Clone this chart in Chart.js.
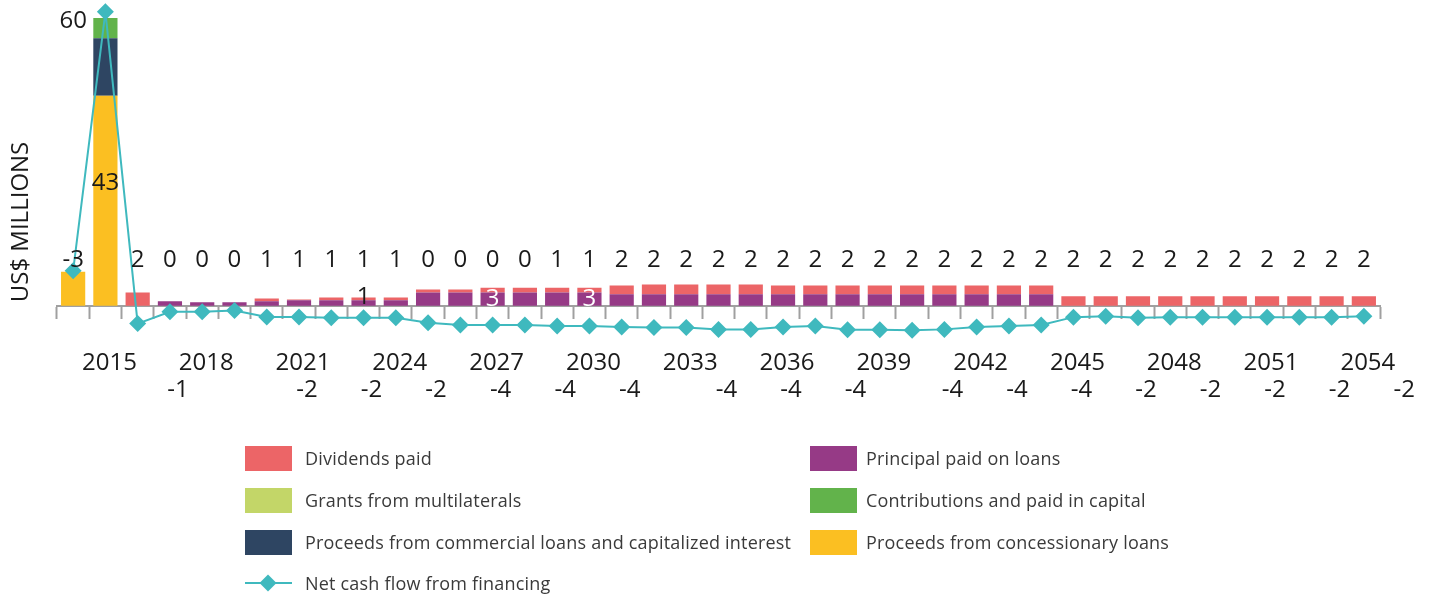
<!DOCTYPE html>
<html>
<head>
<meta charset="utf-8">
<script src="https://cdn.jsdelivr.net/npm/chart.js@4/dist/chart.umd.min.js"></script>
<style>
  html, body { margin: 0; padding: 0; background: #fff; }
  #wrap { position: relative; width: 1445px; height: 603px; overflow: hidden; }
  #chart { position: absolute; left: 0; top: 0; }
  .lg-text { position: absolute; font-family: 'Open Sans', sans-serif; font-size: 18px; letter-spacing: 0.2px; color: #3a3a3a; line-height: 25px; white-space: nowrap; }
  .lg-sw { position: absolute; width: 47px; height: 25px; }
</style>
</head>
<body>
<div id="wrap">
  <canvas id="chart" width="1445" height="603"></canvas>
  <div id="legend"></div>
</div>
<script>
// categories
const years = ['2014','2015','2016','2017','2018','2019','2020','2021','2022','2023',
  '2024','2025','2026','2027','2028','2029','2030','2031','2032','2033',
  '2034','2035','2036','2037','2038','2039','2040','2041','2042','2043',
  '2044','2045','2046','2047','2048','2049','2050','2051','2052','2053','2054'];

// series (US$ millions)
const concessionary = [7.1, 43.8, 0, 0, 0, 0, 0, 0, 0, 0, 0, 0, 0, 0, 0, 0, 0, 0, 0, 0, 0, 0, 0, 0, 0, 0, 0, 0, 0, 0, 0, 0, 0, 0, 0, 0, 0, 0, 0, 0, 0];
const commercial = [0, 12.0, 0, 0, 0, 0, 0, 0, 0, 0, 0, 0, 0, 0, 0, 0, 0, 0, 0, 0, 0, 0, 0, 0, 0, 0, 0, 0, 0, 0, 0, 0, 0, 0, 0, 0, 0, 0, 0, 0, 0];
const contributions = [0, 4.2, 0, 0, 0, 0, 0, 0, 0, 0, 0, 0, 0, 0, 0, 0, 0, 0, 0, 0, 0, 0, 0, 0, 0, 0, 0, 0, 0, 0, 0, 0, 0, 0, 0, 0, 0, 0, 0, 0, 0];
const grants = [0, 0, 0, 0, 0, 0, 0, 0, 0, 0, 0, 0, 0, 0, 0, 0, 0, 0, 0, 0, 0, 0, 0, 0, 0, 0, 0, 0, 0, 0, 0, 0, 0, 0, 0, 0, 0, 0, 0, 0, 0];
const principal = [0, 0, 0, 0.95, 0.74, 0.74, 0.95, 1.15, 1.15, 1.15,
  1.15, 2.8, 2.8, 2.8, 2.8, 2.8, 2.8, 2.4, 2.4, 2.4,
  2.4, 2.4, 2.4, 2.4, 2.4, 2.4, 2.4, 2.4, 2.4, 2.4,
  2.4, 0, 0, 0, 0, 0, 0, 0, 0, 0, 0];
const dividends = [0, 0, 2.8, 0, 0, 0, 0.6, 0.2, 0.6, 0.6,
  0.6, 0.6, 0.6, 1.0, 1.0, 1.0, 1.0, 1.85, 2.05, 2.05,
  2.05, 2.05, 1.85, 1.85, 1.85, 1.85, 1.85, 1.85, 1.85, 1.85,
  1.85, 2.0, 2.0, 2.0, 2.0, 2.0, 2.0, 2.0, 2.0, 2.0, 2.0];
const netCash = [7.3, 61.3, -3.7, -1.25, -1.25, -0.97, -2.3, -2.3, -2.5, -2.5,
  -2.5, -3.5, -4.0, -4.0, -4.0, -4.2, -4.2, -4.4, -4.5, -4.5,
  -4.9, -4.9, -4.4, -4.2, -5.0, -5.0, -5.1, -4.9, -4.4, -4.2,
  -4.0, -2.35, -2.15, -2.5, -2.35, -2.35, -2.35, -2.35, -2.35, -2.35, -2.15];

// data labels as printed on the original
const topLabels = ['-3', '', '2', '0', '0', '0', '1', '1', '1', '1',
  '1', '0', '0', '0', '0', '1', '1', '2', '2', '2',
  '2', '2', '2', '2', '2', '2', '2', '2', '2', '2',
  '2', '2', '2', '2', '2', '2', '2', '2', '2', '2', '2'];
const netLabels = ['', '', '', '-1', '', '', '', '-2', '', '-2',
  '', '-2', '', '-4', '', '-4', '', '-4', '', '',
  '-4', '', '-4', '', '-4', '', '', '-4', '', '-4',
  '', '-4', '', '-2', '', '-2', '', '-2', '', '-2', '', '-2'];
const extraLabels = [
  { text: '60', index: 0, value: 59.3, color: '#1a1a1a' },
  { text: '43', index: 1, value: 25.5, color: '#1a1a1a' },
  { text: '1', index: 9, value: 1.8, color: '#1a1a1a' },
  { text: '3', index: 13, value: 1.35, color: '#ffffff' },
  { text: '3', index: 16, value: 1.35, color: '#ffffff' }
];

const FONT = "'Open Sans', sans-serif";

const labelPlugin = {
  id: 'labelPlugin',
  afterDraw(chart) {
    const ctx = chart.ctx;
    const x = chart.scales.x, y = chart.scales.y;
    ctx.save();
    ctx.font = '24px ' + FONT;
    ctx.textAlign = 'center';
    ctx.textBaseline = 'middle';
    ctx.fillStyle = '#1a1a1a';
    topLabels.forEach((t, i) => {
      if (t) ctx.fillText(t, x.getPixelForValue(i), y.getPixelForValue(9.6));
    });
    netLabels.forEach((t, i) => {
      if (t) ctx.fillText(t, x.getPixelForValue(i) + 8, y.getPixelForValue(-17.6));
    });
    extraLabels.forEach(l => {
      ctx.fillStyle = l.color;
      ctx.fillText(l.text, x.getPixelForValue(l.index), y.getPixelForValue(l.value));
    });
    // axis title
    ctx.fillStyle = '#1a1a1a';
    ctx.translate(21, 222);
    ctx.rotate(-Math.PI / 2);
    ctx.fillText('US$ MILLIONS', 0, 0);
    ctx.restore();
  }
};

const ctx = document.getElementById('chart');
new Chart(ctx, {
  type: 'bar',
  data: {
    labels: years,
    datasets: [
      { label: 'Proceeds from concessionary loans', data: concessionary, backgroundColor: '#FBBF22', stack: 'bars' },
      { label: 'Proceeds from commercial loans and capitalized interest', data: commercial, backgroundColor: '#2E4562', stack: 'bars' },
      { label: 'Contributions and paid in capital', data: contributions, backgroundColor: '#62B34B', stack: 'bars' },
      { label: 'Grants from multilaterals', data: grants, backgroundColor: '#C3D668', stack: 'bars' },
      { label: 'Principal paid on loans', data: principal, backgroundColor: '#963A86', stack: 'bars' },
      { label: 'Dividends paid', data: dividends, backgroundColor: '#EC6567', stack: 'bars' },
      {
        type: 'line',
        label: 'Net cash flow from financing',
        data: netCash,
        stack: 'line',
        order: -1,
        borderColor: '#3FB9BE',
        borderWidth: 2,
        backgroundColor: '#3FB9BE',
        pointStyle: 'rectRot',
        pointRadius: 8.5,
        pointBorderWidth: 0,
        pointBackgroundColor: '#3FB9BE',
        tension: 0,
        clip: false
      }
    ]
  },
  options: {
    responsive: false,
    animation: false,
    layout: { padding: { left: 57, right: 65, top: 3.3, bottom: 201.2 } },
    datasets: { bar: { barPercentage: 0.75, categoryPercentage: 1 } },
    plugins: { legend: { display: false }, tooltip: { enabled: false } },
    scales: {
      x: {
        position: { y: 0 },
        offset: true,
        grid: { offset: true, drawOnChartArea: false, drawTicks: true, tickLength: 12, tickWidth: 2, color: '#a0a0a0' },
        border: { display: true, color: '#a0a0a0', width: 2 },
        ticks: {
          autoSkip: false,
          maxRotation: 0,
          padding: 31,
          labelOffset: 4,
          color: '#1a1a1a',
          font: { family: FONT, size: 24 },
          callback: function (val, idx) { return idx % 3 === 1 ? this.getLabelForValue(val) : ''; }
        }
      },
      y: {
        display: false,
        stacked: true,
        min: -20,
        max: 62
      }
    }
  },
  plugins: [labelPlugin]
});

// legend
const legendItems = [
  { label: 'Dividends paid', color: '#EC6567', col: 0, row: 0 },
  { label: 'Principal paid on loans', color: '#963A86', col: 1, row: 0 },
  { label: 'Grants from multilaterals', color: '#C3D668', col: 0, row: 1 },
  { label: 'Contributions and paid in capital', color: '#62B34B', col: 1, row: 1 },
  { label: 'Proceeds from commercial loans and capitalized interest', color: '#2E4562', col: 0, row: 2 },
  { label: 'Proceeds from concessionary loans', color: '#FBBF22', col: 1, row: 2 }
];
const legend = document.getElementById('legend');
const colX = [245, 810], colText = [305, 866], rowY = [446, 488, 530];
legendItems.forEach(it => {
  const sw = document.createElement('div');
  sw.className = 'lg-sw';
  sw.style.left = colX[it.col] + 'px';
  sw.style.top = rowY[it.row] + 'px';
  sw.style.background = it.color;
  legend.appendChild(sw);
  const tx = document.createElement('div');
  tx.className = 'lg-text';
  tx.style.left = colText[it.col] + 'px';
  tx.style.top = rowY[it.row] + 'px';
  tx.textContent = it.label;
  legend.appendChild(tx);
});
// line item
const ln = document.createElement('div');
ln.style.cssText = 'position:absolute;left:245px;top:582px;width:47px;height:2px;background:#3FB9BE;';
legend.appendChild(ln);
const dm = document.createElement('div');
dm.style.cssText = 'position:absolute;left:262px;top:577px;width:12px;height:12px;background:#3FB9BE;transform:rotate(45deg);';
legend.appendChild(dm);
const lt = document.createElement('div');
lt.className = 'lg-text';
lt.style.left = '305px';
lt.style.top = '571px';
lt.textContent = 'Net cash flow from financing';
legend.appendChild(lt);
</script>
</body>
</html>
